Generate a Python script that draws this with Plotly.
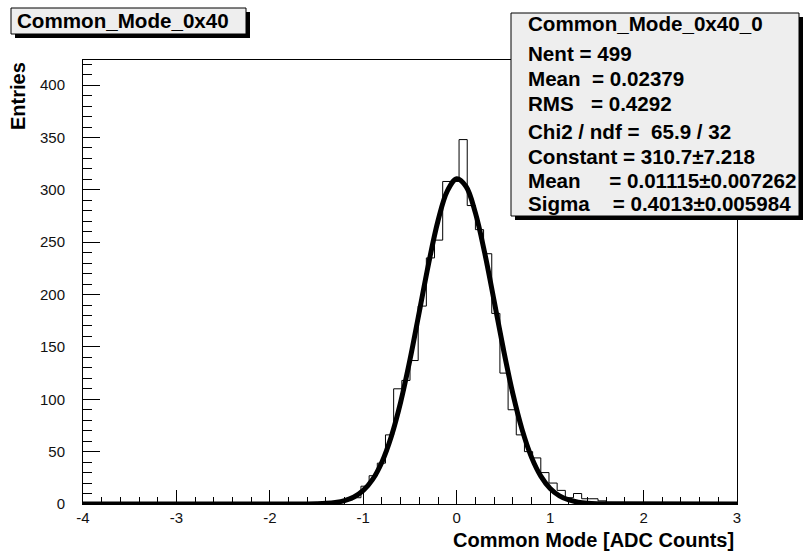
import numpy as np
import plotly.graph_objects as go

# ---------------- data ----------------
hist_range = (-4.0, 3.0)
n_bins = 80
# bin contents (80 bins from -4 to 3)
counts = [0] * 30 + [
    1, 2, 4, 6, 17, 27, 39, 66, 110, 118, 137, 189, 235, 252, 308, 308,
    348, 285, 262, 239, 182, 125, 90, 66, 50, 44, 30, 20, 13, 6, 10, 5,
    5, 3, 1, 1,
] + [0] * 14

# gaussian fit curve
fit_x = [-4.0, -1.6, -1.5, -1.4, -1.3, -1.2, -1.1, -1.0, -0.9, -0.8, -0.7,
         -0.6, -0.5, -0.4, -0.3, -0.2, -0.1, 0.0, 0.1, 0.2, 0.3, 0.4, 0.5,
         0.6, 0.7, 0.8, 0.9, 1.0, 1.1, 1.2, 1.3, 1.4, 1.5, 1.6, 3.0]
fit_y = [0.0, 0.1, 0.26, 0.64, 1.48, 3.25, 6.69, 12.93, 23.52, 40.2, 64.5,
         97.3, 137.9, 183.7, 230.0, 270.5, 299.0, 310.6, 303.2, 278.0, 239.6,
         194.1, 147.7, 105.6, 71.0, 44.8, 26.6, 14.84, 7.78, 3.83, 1.77, 0.77,
         0.32, 0.12, 0.0]

x_tickvals = [-4, -3, -2, -1, 0, 1, 2, 3]
x_ticktext = ["-4", "-3", "-2", "-1", "0", "1", "2", "3"]

title_text = "Common_Mode_0x40"
x_title = "Common Mode [ADC Counts]"
y_title = "Entries"
NB = "\u00a0"
stats_lines = [
    "Common_Mode_0x40_0",
    "Nent = 499",
    "Mean" + NB * 2 + "= 0.02379",
    "RMS" + NB * 3 + "= 0.4292",
    "Chi2 / ndf =" + NB * 2 + "65.9 / 32",
    "Constant = 310.7\u00b17.218",
    "Mean" + NB * 5 + "= 0.01115\u00b10.007262",
    "Sigma" + NB * 4 + "= 0.4013\u00b10.005984",
]

# ---------------- layout helpers ----------------
W, H = 807, 552
L, R, T, B = 83, 70, 60, 48
PW, PH = W - L - R, H - T - B


def px(x):
    return (x - L) / PW


def py(y):
    return (H - B - y) / PH


edges = np.linspace(hist_range[0], hist_range[1], n_bins + 1)
step_x = list(edges)
step_y = list(counts) + [0]

fig = go.Figure()
fig.add_trace(go.Scatter(x=step_x, y=step_y, mode="lines", line_shape="hv",
                         line=dict(color="black", width=1), hoverinfo="skip"))
fig.add_trace(go.Scatter(x=fit_x, y=fit_y, mode="lines", line_shape="spline",
                         line=dict(color="black", width=5), hoverinfo="skip"))

font_fam = "Liberation Sans, Arial, Helvetica, sans-serif"

fig.update_layout(
    width=W, height=H,
    margin=dict(l=L, r=R, t=T, b=B),
    paper_bgcolor="white", plot_bgcolor="white",
    showlegend=False,
    font=dict(family=font_fam, color="black"),
    xaxis=dict(range=[hist_range[0], hist_range[1]], tickmode="array",
               tickvals=x_tickvals, ticktext=x_ticktext,
               ticks="inside", ticklen=14, tickwidth=1, tickcolor="black",
               minor=dict(ticks="inside", ticklen=7, tickwidth=1, tickcolor="black",
                          tick0=-4, dtick=0.2),
               showgrid=False, zeroline=False, showline=True, mirror=True,
               linecolor="black", linewidth=1,
               tickfont=dict(size=15, color="#111"), ticklabelstandoff=0),
    yaxis=dict(range=[0, 424], tick0=0, dtick=50,
               ticks="inside", ticklen=17, tickwidth=1, tickcolor="black",
               minor=dict(ticks="inside", ticklen=9, tickwidth=1, tickcolor="black",
                          tick0=0, dtick=10),
               showgrid=False, zeroline=False, showline=True, mirror=True,
               linecolor="black", linewidth=1,
               tickfont=dict(size=15, color="#111"), ticklabelstandoff=14),
)

shapes = []


def box(x0, y0, x1, y1, sh=4):
    shapes.append(dict(type="rect", xref="paper", yref="paper",
                       x0=px(x0 + sh), x1=px(x1 + sh), y0=py(y1 + sh), y1=py(y0 + sh),
                       fillcolor="black", line=dict(width=0), layer="above"))
    shapes.append(dict(type="rect", xref="paper", yref="paper",
                       x0=px(x0), x1=px(x1), y0=py(y1), y1=py(y0),
                       fillcolor="#eeeeee", line=dict(color="black", width=1),
                       layer="above"))


box(11, 8, 246, 34)
box(511, 13, 799, 216)
fig.update_layout(shapes=shapes)

FS = 20.6
ann = []
ann.append(dict(text=title_text, x=px(15), y=py(21), xref="paper", yref="paper",
                xanchor="left", yanchor="middle", showarrow=False,
                font=dict(size=FS, weight="bold", family=font_fam)))
ys = [23, 53, 78, 103, 131, 156, 180, 203]
for t, yy in zip(stats_lines, ys):
    ann.append(dict(text=t, x=px(526), y=py(yy), xref="paper", yref="paper",
                    xanchor="left", yanchor="middle", showarrow=False,
                    font=dict(size=FS, weight="bold", family=font_fam)))
ann.append(dict(text=x_title, x=px(736), y=py(540), xref="paper", yref="paper",
                xanchor="right", yanchor="middle", showarrow=False,
                font=dict(size=20, weight="bold", family=font_fam)))
ann.append(dict(text=y_title, x=px(18), y=py(96), xref="paper", yref="paper",
                xanchor="center", yanchor="middle", showarrow=False, textangle=-90,
                font=dict(size=20, weight="bold", family=font_fam)))
fig.update_layout(annotations=ann)

fig.write_html("out.html")
